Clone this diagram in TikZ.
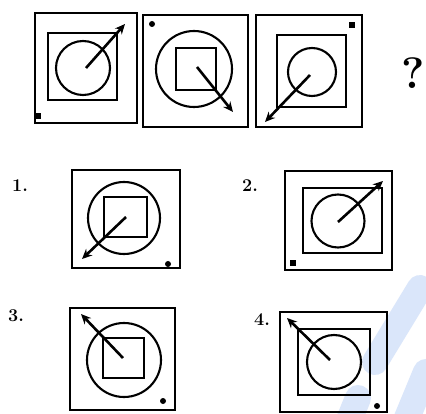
\documentclass[tikz,border=0pt]{standalone}
\usetikzlibrary{arrows.meta}
\begin{document}
\begin{tikzpicture}[x=1pt,y=-1pt,
  outer/.style={draw=black,line width=2.7pt},
  inner/.style={draw=black,line width=2.6pt},
  ring/.style={draw=black,line width=2.1pt},
  pointer/.style={draw=black,line width=2.6pt,-{Stealth[length=10pt,width=9pt]}},
  dotmark/.style={fill=black},
  lbl/.style={font=\fontsize{18}{18}\selectfont\bfseries,inner sep=0pt},
  wm/.style={draw={rgb,255:red,218;green,230;blue,250},line width=26pt,line cap=round}]
\useasboundingbox (0,0) rectangle (426,414);
\fill[white] (0,0) rectangle (426,414);
% watermark
\draw[wm] (420,288) -- (375,362);
\draw[wm] (358,398) -- (345,430);
\draw[wm] (426,372) -- (402,430);
% Figure A
\draw[outer] (35,13) rectangle (137,123);
\draw[inner] (48,33) rectangle (117,100);
\draw[ring] (83,68) circle (27);
\coordinate (a1) at (86,68); \coordinate (a2) at (125,24);
\draw[pointer] (a1) -- (a2);
\fill[dotmark] (35,113) rectangle (41,119);
% Figure B
\draw[outer] (143,15) rectangle (248,127);
\draw[ring] (194,69) circle (38);
\draw[inner] (176,48) rectangle (216,90);
\coordinate (b1) at (197,67); \coordinate (b2) at (233,112);
\draw[pointer] (b1) -- (b2);
\fill[dotmark] (152,24) circle (3);
% Figure C
\draw[outer] (256,15) rectangle (362,127);
\draw[inner] (277,35) rectangle (346,107);
\draw[ring] (312,72) circle (24);
\coordinate (c1) at (310,75); \coordinate (c2) at (265,122);
\draw[pointer] (c1) -- (c2);
\fill[dotmark] (349,22) rectangle (355,28);
% question mark
\node[font=\fontsize{44}{44}\selectfont\bfseries,inner sep=0pt] (q) at (413,73) {?};
% Option 1
\node[lbl] (l1) at (20,186) {1.};
\draw[outer] (72,170) rectangle (180,268);
\draw[ring] (124,218) circle (36);
\draw[inner] (104,197) rectangle (147,237);
\coordinate (d1) at (126,217); \coordinate (d2) at (82,259);
\draw[pointer] (d1) -- (d2);
\fill[dotmark] (168,264) circle (3);
% Option 2
\node[lbl] (l2) at (250,186) {2.};
\draw[outer] (285,171) rectangle (392,270);
\draw[inner] (303,188) rectangle (382,253);
\draw[ring] (338,221) circle (26.5);
\coordinate (e1) at (338,222); \coordinate (e2) at (383,181);
\draw[pointer] (e1) -- (e2);
\fill[dotmark] (290,260) rectangle (296,266);
% Option 3
\node[lbl] (l3) at (16,316) {3.};
\draw[outer] (70,308) rectangle (175,410);
\draw[ring] (124,360) circle (37);
\draw[inner] (103,338) rectangle (144,378);
\coordinate (f1) at (123,358); \coordinate (f2) at (81,314);
\draw[pointer] (f1) -- (f2);
\fill[dotmark] (163,401) circle (3);
% Option 4
\node[lbl] (l4) at (262,320) {4.};
\draw[outer] (280,312) rectangle (387,412);
\draw[inner] (298,329) rectangle (370,395);
\draw[ring] (334,362) circle (27);
\coordinate (g1) at (330,360); \coordinate (g2) at (287,318);
\draw[pointer] (g1) -- (g2);
\fill[dotmark] (377,406) circle (3);
\end{tikzpicture}
\end{document}
